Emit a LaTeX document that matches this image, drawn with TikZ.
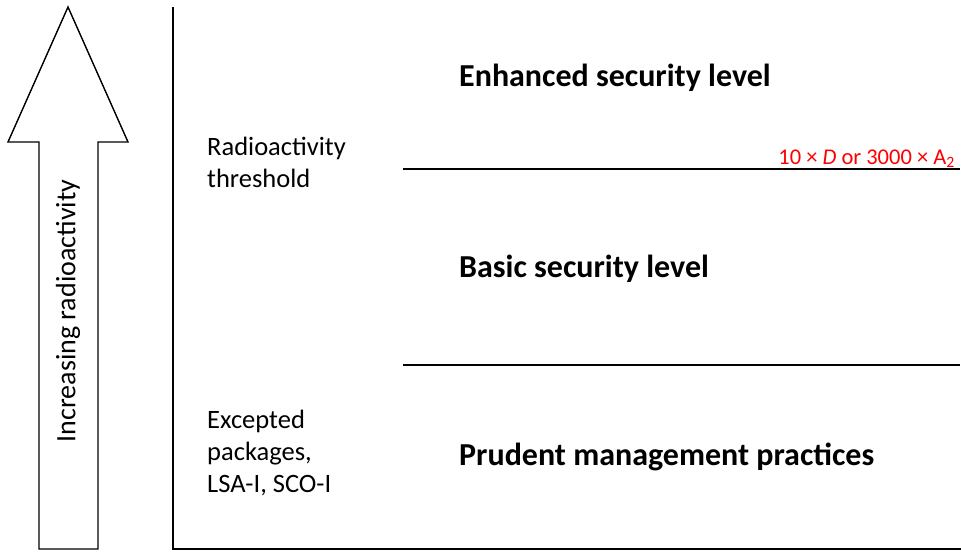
\documentclass[tikz,border=0pt]{standalone}
\usepackage{fontspec}
\setmainfont{Carlito}
\begin{document}
\begin{tikzpicture}[x=1pt,y=-1pt,
  rule/.style={line width=1.6pt},
  level/.style={font=\fontsize{32}{38}\selectfont\bfseries, anchor=base west, inner sep=0pt},
  side/.style={font=\fontsize{26.5}{32}\selectfont, anchor=base west, align=left, inner sep=0pt},
  limit/.style={font=\fontsize{22.5}{26}\selectfont, text=red, anchor=base east, inner sep=0pt}]
  \useasboundingbox (0,0) rectangle (961,554);
  % block arrow pointing upward
  \draw[line width=1.4pt, line join=miter]
    (39,549) -- (39,142) -- (8,142) -- (68,7) -- (128,142) -- (98,142) -- (98,549) -- cycle;
  \node[rotate=90, font=\fontsize{28}{32}\selectfont, inner sep=0pt] (arrowlabel) at (68,311) {Increasing radioactivity};
  % axes
  \coordinate (top) at (173,8);
  \coordinate (origin) at (173,549);
  \coordinate (right) at (960,549);
  \draw[rule, line cap=rect] (top) -- (origin) -- (right);
  % level boundaries
  \coordinate (u1) at (403,169);
  \coordinate (u2) at (960,169);
  \coordinate (l1) at (403,365);
  \coordinate (l2) at (960,365);
  \draw[rule] (u1) -- (u2);
  \draw[rule] (l1) -- (l2);
  % labels (a multi-line node's base is the baseline of its last line)
  \node[level] (enh) at (459,86) {Enhanced security level};
  \node[level] (basic) at (459,277) {Basic security level};
  \node[level] (prud) at (459,465) {Prudent management practices};
  \node[side] (thr) at (207,187) {Radioactivity\\threshold};
  \node[side] (exc) at (207,492) {Excepted\\packages,\\LSA-I, SCO-I};
  \node[limit] (lim) at (955,164) {10 × \textit{D} or 3000 × A\textsubscript{2}};
\end{tikzpicture}
\end{document}
